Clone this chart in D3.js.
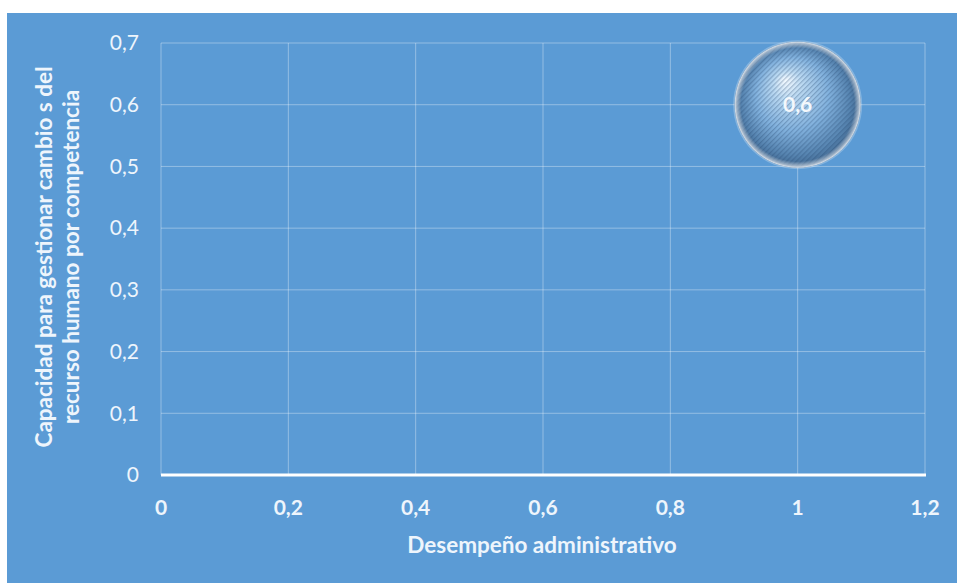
<!DOCTYPE html>
<html>
<head>
<meta charset="utf-8">
<script src="https://cdn.jsdelivr.net/npm/d3@7"></script>
<style>
  html, body { margin: 0; padding: 0; background: #ffffff; }
  svg { display: block; }
</style>
</head>
<body>
<svg id="chart" width="957" height="583"></svg>
<script>
// Bubble data
const xValues = [1];
const yValues = [0.6];
const sizeValues = [0.6];
const bubbleLabels = ["0,6"];

// Axis ticks
const xTicks = [0, 0.2, 0.4, 0.6, 0.8, 1, 1.2];
const xTickLabels = ["0", "0,2", "0,4", "0,6", "0,8", "1", "1,2"];
const yTicks = [0, 0.1, 0.2, 0.3, 0.4, 0.5, 0.6, 0.7];
const yTickLabels = ["0", "0,1", "0,2", "0,3", "0,4", "0,5", "0,6", "0,7"];

const xTitle = "Desempeño administrativo";
const yTitleLines = ["Capacidad para gestionar cambio s del", "recurso humano por  competencia"];

const font = "Lato, 'Open Sans', sans-serif";
const svg = d3.select("#chart");

// Chart background
svg.append("rect")
  .attr("x", 7).attr("y", 13)
  .attr("width", 950).attr("height", 570)
  .attr("fill", "#5b9bd5");

const plot = { left: 161, right: 925, top: 43, bottom: 475 };
const x = d3.scaleLinear().domain([0, 1.2]).range([plot.left, plot.right]);
const y = d3.scaleLinear().domain([0, 0.7]).range([plot.bottom, plot.top]);
const r = d3.scaleSqrt().domain([0, 0.6]).range([0, 63]);

// Definitions: sphere shading and hatch texture
const defs = svg.append("defs");
const grad = defs.append("radialGradient")
  .attr("id", "sphere")
  .attr("cx", "50%").attr("cy", "50%").attr("r", "50%")
  .attr("fx", "40%").attr("fy", "30%");
grad.append("stop").attr("offset", "0%").attr("stop-color", "#f4faff");
grad.append("stop").attr("offset", "22%").attr("stop-color", "#bcdaf2");
grad.append("stop").attr("offset", "58%").attr("stop-color", "#82b2de");
grad.append("stop").attr("offset", "86%").attr("stop-color", "#5684b0");
grad.append("stop").attr("offset", "100%").attr("stop-color", "#3f658d");

const rim = defs.append("radialGradient")
  .attr("id", "rim").attr("cx", "50%").attr("cy", "50%").attr("r", "50%");
rim.append("stop").attr("offset", "90%").attr("stop-color", "#ffffff").attr("stop-opacity", 0);
rim.append("stop").attr("offset", "97%").attr("stop-color", "#ffffff").attr("stop-opacity", 0.5);
rim.append("stop").attr("offset", "100%").attr("stop-color", "#ffffff").attr("stop-opacity", 0.85);

const hatch = defs.append("pattern")
  .attr("id", "hatch")
  .attr("patternUnits", "userSpaceOnUse")
  .attr("width", 3.5).attr("height", 3.5)
  .attr("patternTransform", "rotate(45)");
hatch.append("rect").attr("width", 1.2).attr("height", 3.5)
  .attr("fill", "#24476f").attr("fill-opacity", 0.3);

// Gridlines
svg.append("g")
  .selectAll("line")
  .data(xTicks)
  .join("line")
  .attr("x1", d => x(d)).attr("x2", d => x(d))
  .attr("y1", plot.top).attr("y2", plot.bottom)
  .attr("stroke", "#ffffff").attr("stroke-opacity", 0.35).attr("stroke-width", 1);

svg.append("g")
  .selectAll("line")
  .data(yTicks.filter(d => d > 0))
  .join("line")
  .attr("x1", plot.left).attr("x2", plot.right)
  .attr("y1", d => y(d)).attr("y2", d => y(d))
  .attr("stroke", "#ffffff").attr("stroke-opacity", 0.35).attr("stroke-width", 1);

// X axis baseline
svg.append("line")
  .attr("x1", plot.left).attr("x2", plot.right + 1)
  .attr("y1", y(0)).attr("y2", y(0))
  .attr("stroke", "#ffffff").attr("stroke-width", 3);

// Y tick labels
svg.append("g")
  .selectAll("text")
  .data(yTicks)
  .join("text")
  .attr("x", 139)
  .attr("y", d => y(d))
  .attr("dy", "0.35em")
  .attr("text-anchor", "end")
  .attr("fill", "#eef5fc")
  .attr("font-family", font)
  .attr("font-size", 21)
  .text((d, i) => yTickLabels[i]);

// X tick labels
svg.append("g")
  .selectAll("text")
  .data(xTicks)
  .join("text")
  .attr("x", d => x(d))
  .attr("y", 515)
  .attr("text-anchor", "middle")
  .attr("fill", "#eef5fc")
  .attr("font-family", font)
  .attr("font-weight", "bold")
  .attr("font-size", 21)
  .text((d, i) => xTickLabels[i]);

// Axis titles
svg.append("text")
  .attr("x", 542)
  .attr("y", 553)
  .attr("text-anchor", "middle")
  .attr("fill", "#eef5fc")
  .attr("font-family", font)
  .attr("font-weight", "bold")
  .attr("font-size", 22.5)
  .text(xTitle);

svg.append("g")
  .attr("transform", "translate(52,257) rotate(-90)")
  .selectAll("text")
  .data(yTitleLines)
  .join("text")
  .attr("x", 0)
  .attr("y", (d, i) => i * 27)
  .attr("text-anchor", "middle")
  .attr("fill", "#eef5fc")
  .attr("font-family", font)
  .attr("font-weight", "bold")
  .attr("font-size", 22.5)
  .text(d => d);

// Bubbles
const bubbles = svg.append("g")
  .selectAll("g")
  .data(xValues.map((d, i) => ({ x: d, y: yValues[i], s: sizeValues[i], label: bubbleLabels[i] })))
  .join("g")
  .attr("transform", d => `translate(${x(d.x)},${y(d.y)})`);

bubbles.append("circle")
  .attr("r", d => r(d.s) + 1.5)
  .attr("fill", "#ffffff").attr("fill-opacity", 0.25);
bubbles.append("circle")
  .attr("r", d => r(d.s))
  .attr("fill", "url(#sphere)");
bubbles.append("circle")
  .attr("r", d => r(d.s))
  .attr("fill", "url(#hatch)");
bubbles.append("circle")
  .attr("r", d => r(d.s))
  .attr("fill", "url(#rim)");

bubbles.append("text")
  .attr("dy", "0.35em")
  .attr("text-anchor", "middle")
  .attr("fill", "#f4f8fc")
  .attr("font-family", font)
  .attr("font-weight", "bold")
  .attr("font-size", 21)
  .text(d => d.label);
</script>
</body>
</html>
